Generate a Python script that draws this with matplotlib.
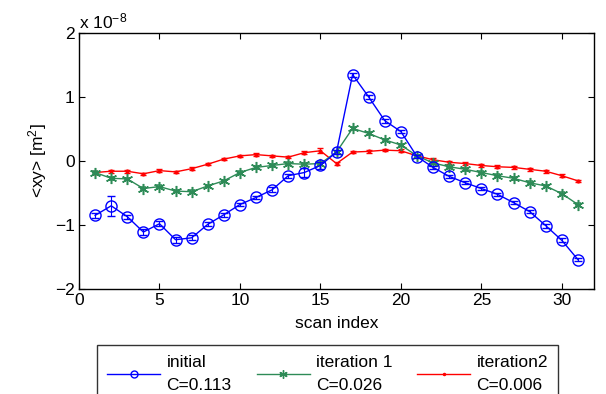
import matplotlib
matplotlib.use("Agg")
import matplotlib.pyplot as plt
from matplotlib.lines import Line2D

plt.rcParams['font.family'] = ['Liberation Sans', 'DejaVu Sans']
plt.rcParams['mathtext.fontset'] = 'custom'
plt.rcParams['mathtext.rm'] = 'Liberation Sans'
plt.rcParams['mathtext.it'] = 'Liberation Sans'

# scan indices and <xy> values (units of 1e-8 m^2)
scan = list(range(1, 32))
initial = [-0.85, -0.70, -0.87, -1.11, -0.98, -1.23, -1.20, -0.99, -0.84, -0.68,
           -0.57, -0.45, -0.23, -0.18, -0.07, 0.14, 1.35, 1.00, 0.63, 0.46,
           0.07, -0.10, -0.24, -0.34, -0.43, -0.52, -0.65, -0.79, -1.01, -1.24, -1.54]
initial_err = [0.04, 0.16, 0.03, 0.04, 0.04, 0.05, 0.04, 0.03, 0.03, 0.03,
               0.03, 0.04, 0.03, 0.07, 0.05, 0.03, 0.03, 0.03, 0.03, 0.03,
               0.03, 0.02, 0.02, 0.02, 0.02, 0.02, 0.02, 0.02, 0.03, 0.03, 0.03]
iter1 = [-0.18, -0.27, -0.28, -0.43, -0.40, -0.47, -0.48, -0.39, -0.31, -0.18,
         -0.10, -0.07, -0.04, -0.05, -0.04, 0.14, 0.51, 0.43, 0.33, 0.25,
         0.08, -0.03, -0.09, -0.13, -0.18, -0.23, -0.27, -0.34, -0.39, -0.51, -0.68]
iter1_err = [0.02] * 31
iter2 = [-0.18, -0.16, -0.16, -0.20, -0.15, -0.17, -0.12, -0.05, 0.03, 0.08,
         0.10, 0.08, 0.06, 0.13, 0.16, -0.04, 0.14, 0.15, 0.17, 0.16,
         0.08, 0.02, -0.02, -0.04, -0.07, -0.09, -0.10, -0.13, -0.16, -0.23, -0.31]
iter2_err = [0.02, 0.02, 0.02, 0.02, 0.02, 0.02, 0.02, 0.02, 0.02, 0.02,
             0.02, 0.02, 0.02, 0.02, 0.04, 0.02, 0.02, 0.02, 0.02, 0.02,
             0.02, 0.02, 0.02, 0.02, 0.02, 0.02, 0.02, 0.02, 0.02, 0.02, 0.02]

labels = ['initial\nC=0.113', 'iteration 1\nC=0.026', 'iteration2\nC=0.006']
c_blue = '#0000ff'
c_green = '#2e8b57'
c_red = '#ff0000'

fig = plt.figure(figsize=(6.06, 3.94), dpi=100)
ax = fig.add_axes([79 / 606, 1 - 289 / 394, 515 / 606, 256 / 394])

asterisk = (6, 2, 0)
ax.errorbar(scan, iter2, yerr=iter2_err, color=c_red, marker='.', markersize=4,
            lw=1, capsize=2, elinewidth=0.8, zorder=3)
ax.errorbar(scan, iter1, yerr=iter1_err, color=c_green, marker=asterisk,
            markersize=8, mew=1.1, lw=1, capsize=2, elinewidth=0.8, zorder=4)
ax.errorbar(scan, initial, yerr=initial_err, color=c_blue, marker='o',
            markersize=8, mfc='none', mew=1, lw=1, capsize=3, elinewidth=0.8,
            zorder=5)

ax.set_xlim(0, 32)
ax.set_ylim(-2, 2)
ax.set_xticks([0, 5, 10, 15, 20, 25, 30])
ax.set_yticks([-2, -1, 0, 1, 2])
ax.set_yticklabels(['\u22122', '\u22121', '0', '1', '2'])
ax.tick_params(direction='in', top=True, right=True, length=4, width=0.8,
               labelsize=12.5, pad=3)
for s in ax.spines.values():
    s.set_linewidth(1.0)

ax.set_xlabel('scan index', fontsize=12.5, labelpad=6)
ax.set_ylabel('<xy> [m$^2$]', fontsize=12.5, labelpad=4)
ax.text(0.0, 1.005, 'x 10$^{\u22128}$', transform=ax.transAxes,
        fontsize=12.5, ha='left', va='bottom')

handles = [
    Line2D([], [], color=c_blue, marker='o', mfc='none', markersize=5, lw=1),
    Line2D([], [], color=c_green, marker=asterisk, markersize=6, lw=1),
    Line2D([], [], color=c_red, marker='.', markersize=3, lw=1),
]
leg = fig.legend(handles, labels, loc='upper left', ncol=3,
                 bbox_to_anchor=(97 / 606, 1 - 345 / 394),
                 borderaxespad=0, fontsize=12.5, fancybox=False,
                 edgecolor='black', handlelength=3.05, handletextpad=0.35,
                 columnspacing=1.45, labelspacing=0.2, borderpad=0.6)
leg.get_frame().set_linewidth(1.0)
for t in leg.get_texts():
    t.set_linespacing(1.6)

fig.savefig('out.png', dpi=100)
